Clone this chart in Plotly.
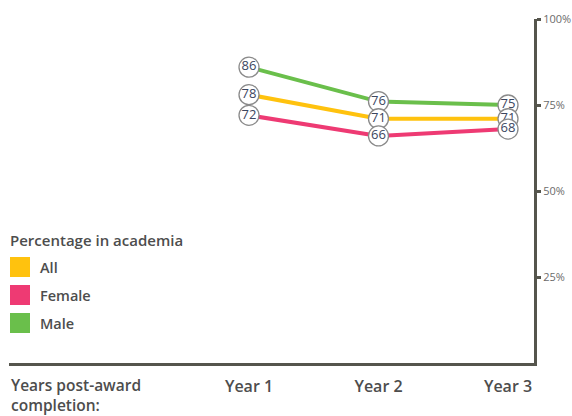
import plotly.graph_objects as go

years = ["Year 1", "Year 2", "Year 3"]
series_names = ["All", "Female", "Male"]
all_vals = [78, 71, 71]
female_vals = [72, 66, 68]
male_vals = [86, 76, 75]
colors = {"All": "#ffc20e", "Female": "#ee3a73", "Male": "#6abf4b"}
y_ticks = [25, 50, 75, 100]
y_tick_labels = ["25%", "50%", "75%", "100%"]
axis_title_lines = ["Years post-award", "completion:"]

data = {"All": all_vals, "Female": female_vals, "Male": male_vals}

W, H = 572, 416
ML, MR, MT, MB = 9, 38, 19, 53
PW = W - ML - MR
PH = H - MT - MB

fig = go.Figure()

# lines first
for name in ["Male", "All", "Female"]:
    fig.add_trace(go.Scatter(
        x=years, y=data[name], mode="lines",
        line=dict(color=colors[name], width=4),
        showlegend=False, hoverinfo="skip", cliponaxis=False))

# markers with labels on top
for name in ["Male", "All", "Female"]:
    fig.add_trace(go.Scatter(
        x=years, y=data[name], mode="markers+text",
        marker=dict(size=20, color="white", line=dict(color="#8a8a8a", width=1.3)),
        text=[str(v) for v in data[name]], textposition="middle center",
        textfont=dict(family="Open Sans", size=13, color="#3b4660"),
        showlegend=False, cliponaxis=False))

axis_col = "#55554d"

# x: Year1 at px 249, Year3 at px 508 -> 129.5 px per category
step = (508 - 249) / 2
x0 = -(249 - ML) / step
x1 = (ML + PW - 249) / step

fig.update_layout(
    width=W, height=H,
    margin=dict(l=ML, r=MR, t=MT, b=MB),
    paper_bgcolor="white", plot_bgcolor="white",
    xaxis=dict(
        type="category", range=[x0, x1], automargin=False,
        showgrid=False, zeroline=False,
        showline=True, linecolor=axis_col, linewidth=3,
        ticks="", ticklabelstandoff=7,
        tickfont=dict(family="Open Sans", size=16, color="#4d4d4d", weight=600),
    ),
    yaxis=dict(
        range=[0, 100], side="right", automargin=False,
        showgrid=False, zeroline=False,
        showline=True, linecolor=axis_col, linewidth=3,
        ticks="outside", ticklen=4, tickwidth=3, tickcolor=axis_col,
        ticklabelstandoff=0,
        tickvals=y_ticks, ticktext=y_tick_labels,
        tickfont=dict(family="Open Sans", size=11, color="#6b6b6b"),
    ),
    showlegend=False,
)

def px_to_paper_x(px):
    return (px - ML) / PW

def py_to_paper_y(py):
    return (MT + PH - py) / PH

# axis label at bottom-left (two lines)
for i, line in enumerate(axis_title_lines):
    fig.add_annotation(
        x=px_to_paper_x(10), y=py_to_paper_y(385 + i * 20), xref="paper", yref="paper",
        xanchor="left", yanchor="middle", align="left", showarrow=False,
        text=line, borderpad=0,
        font=dict(family="Open Sans", size=15.5, color="#4d4d4d", weight=600))

# manual legend
fig.add_annotation(
    x=px_to_paper_x(8), y=py_to_paper_y(240), xref="paper", yref="paper",
    xanchor="left", yanchor="middle", showarrow=False,
    text="Percentage in academia",
    font=dict(family="Open Sans", size=15, color="#4d4d4d", weight=600))

for i, name in enumerate(series_names):
    cy = 267 + i * 28
    fig.add_shape(type="rect", xref="paper", yref="paper",
                  x0=px_to_paper_x(10), x1=px_to_paper_x(30),
                  y0=py_to_paper_y(cy - 10), y1=py_to_paper_y(cy + 10),
                  fillcolor=colors[name], line=dict(width=0))
    fig.add_annotation(
        x=px_to_paper_x(38), y=py_to_paper_y(cy), xref="paper", yref="paper",
        xanchor="left", yanchor="middle", showarrow=False, text=name,
        font=dict(family="Open Sans", size=14.5, color="#4d4d4d", weight=600))

fig.write_html("out.html")
